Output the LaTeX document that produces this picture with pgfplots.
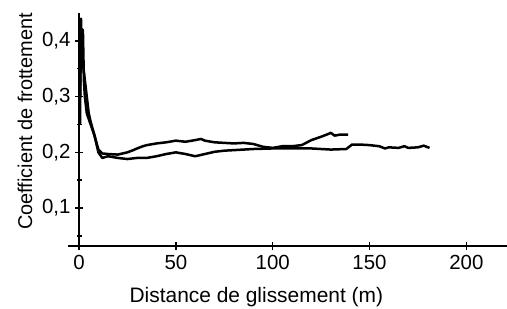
\documentclass[border=0pt]{standalone}
\usepackage{fontspec}
\setmainfont{Liberation Sans}
\usepackage{pgfplots}
\pgfplotsset{compat=1.18}
\begin{document}
\begin{tikzpicture}[x=1bp,y=1bp]
\begin{axis}[
  scale only axis,
  width=439bp, height=233bp,
  xmin=-5.7, xmax=221,
  ymin=0.032, ymax=0.45,
  axis x line=bottom,
  axis y line=middle,
  axis line style={line width=2.2bp,-},
  xtick={0,50,100,150,200},
  ytick={0.1,0.2,0.3,0.4},
  minor ytick={0.05,0.15,0.25,0.35},
  tick align=center,
  major tick length=8bp,
  minor tick length=5bp,
  every tick/.style={black, line width=1.5bp},
  /pgf/number format/assume math mode=true,
  /pgf/number format/use comma,
  yticklabel style={/pgf/number format/fixed,/pgf/number format/precision=1, anchor=east, xshift=-1bp},
  xticklabel style={anchor=north, yshift=-2bp},
  tick label style={font=\fontsize{20.5}{23}\selectfont},
  xlabel={Distance de glissement (m)},
  ylabel={Coefficient de frottement},
  xlabel style={font=\fontsize{21}{24}\selectfont, at={(axis description cs:0.429,0)}, anchor=base, yshift=-56bp},
  ylabel style={font=\fontsize{20}{23}\selectfont, at={(axis description cs:-0.098,0.534)}, anchor=center, rotate=90},
  clip=false,
]
\addplot[black, line width=2.5bp, line join=round] coordinates {
(0.5,0.25)(1,0.44)(1.5,0.38)(2,0.42)(2.5,0.33)(3,0.30)(4,0.27)(6,0.25)(8,0.23)(10,0.205)(12,0.198)(15,0.197)(20,0.196)(25,0.200)(28,0.204)(30,0.207)(33,0.211)(35,0.213)(40,0.216)(45,0.218)(50,0.221)(55,0.219)(60,0.222)(63,0.224)(65,0.221)(70,0.218)(75,0.217)(80,0.216)(85,0.217)(90,0.215)(95,0.210)(100,0.208)(105,0.211)(110,0.211)(115,0.213)(120,0.222)(125,0.228)(128,0.232)(130,0.235)(132,0.230)(135,0.232)(139,0.232)
};
\addplot[black, line width=2.5bp, line join=round] coordinates {
(0.5,0.30)(1.2,0.42)(2,0.36)(3,0.33)(4,0.30)(5,0.27)(6,0.255)(8,0.23)(10,0.20)(12,0.190)(15,0.193)(20,0.190)(25,0.188)(30,0.190)(35,0.190)(40,0.193)(45,0.197)(50,0.200)(55,0.197)(60,0.193)(65,0.197)(70,0.201)(75,0.203)(80,0.204)(90,0.206)(100,0.207)(110,0.207)(120,0.207)(130,0.205)(138,0.206)(141,0.214)(145,0.214)(150,0.213)(155,0.211)(158,0.207)(160,0.209)(165,0.208)(168,0.211)(170,0.208)(175,0.209)(178,0.212)(181,0.208)
};
\end{axis}
\pgfresetboundingbox
\useasboundingbox (current axis.south west) ++(-68bp,-63bp) rectangle ++(507bp,309bp);
\end{tikzpicture}
\end{document}
